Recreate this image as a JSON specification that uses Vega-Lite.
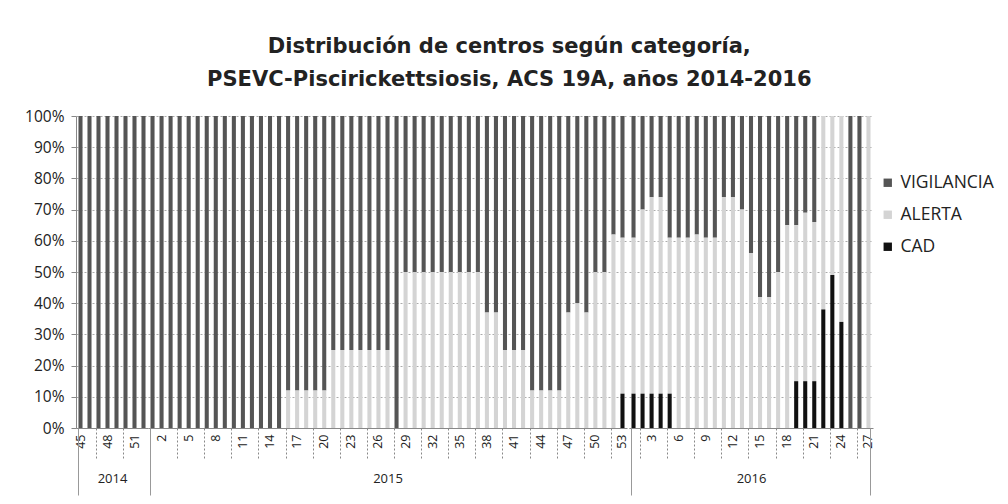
{
  "$schema": "https://vega.github.io/schema/vega-lite/v6.json",
  "padding": {"left": 24, "top": 36, "right": 5, "bottom": 2},
  "background": "white",
  "title": {
    "text": ["Distribución de centros según categoría,", "PSEVC-Piscirickettsiosis, ACS 19A, años 2014-2016"],
    "font": "DejaVu Sans", "fontSize": 21, "fontWeight": "bold", "lineHeight": 33,
    "anchor": "middle", "offset": 19, "color": "#222"
  },
  "datasets": {
    "cats": [{"c":"CAD","r":1},{"c":"ALERTA","r":2},{"c":"VIGILANCIA","r":3}],
    "d": [
      {"y":2014,"w":45,"c":"VIGILANCIA","p":100},{"y":2014,"w":46,"c":"VIGILANCIA","p":100},{"y":2014,"w":47,"c":"VIGILANCIA","p":100},{"y":2014,"w":48,"c":"VIGILANCIA","p":100},
      {"y":2014,"w":49,"c":"VIGILANCIA","p":100},{"y":2014,"w":50,"c":"VIGILANCIA","p":100},{"y":2014,"w":51,"c":"VIGILANCIA","p":100},{"y":2014,"w":52,"c":"VIGILANCIA","p":100},
      {"y":2015,"w":1,"c":"VIGILANCIA","p":100},{"y":2015,"w":2,"c":"VIGILANCIA","p":100},{"y":2015,"w":3,"c":"VIGILANCIA","p":100},{"y":2015,"w":4,"c":"VIGILANCIA","p":100},
      {"y":2015,"w":5,"c":"VIGILANCIA","p":100},{"y":2015,"w":6,"c":"VIGILANCIA","p":100},{"y":2015,"w":7,"c":"VIGILANCIA","p":100},{"y":2015,"w":8,"c":"VIGILANCIA","p":100},
      {"y":2015,"w":9,"c":"VIGILANCIA","p":100},{"y":2015,"w":10,"c":"VIGILANCIA","p":100},{"y":2015,"w":11,"c":"VIGILANCIA","p":100},{"y":2015,"w":12,"c":"VIGILANCIA","p":100},
      {"y":2015,"w":13,"c":"VIGILANCIA","p":100},{"y":2015,"w":14,"c":"VIGILANCIA","p":100},{"y":2015,"w":15,"c":"VIGILANCIA","p":100},
      {"y":2015,"w":16,"c":"VIGILANCIA","p":88},{"y":2015,"w":16,"c":"ALERTA","p":12},
      {"y":2015,"w":17,"c":"VIGILANCIA","p":88},{"y":2015,"w":17,"c":"ALERTA","p":12},
      {"y":2015,"w":18,"c":"VIGILANCIA","p":88},{"y":2015,"w":18,"c":"ALERTA","p":12},
      {"y":2015,"w":19,"c":"VIGILANCIA","p":88},{"y":2015,"w":19,"c":"ALERTA","p":12},
      {"y":2015,"w":20,"c":"VIGILANCIA","p":88},{"y":2015,"w":20,"c":"ALERTA","p":12},
      {"y":2015,"w":21,"c":"VIGILANCIA","p":75},{"y":2015,"w":21,"c":"ALERTA","p":25},
      {"y":2015,"w":22,"c":"VIGILANCIA","p":75},{"y":2015,"w":22,"c":"ALERTA","p":25},
      {"y":2015,"w":23,"c":"VIGILANCIA","p":75},{"y":2015,"w":23,"c":"ALERTA","p":25},
      {"y":2015,"w":24,"c":"VIGILANCIA","p":75},{"y":2015,"w":24,"c":"ALERTA","p":25},
      {"y":2015,"w":25,"c":"VIGILANCIA","p":75},{"y":2015,"w":25,"c":"ALERTA","p":25},
      {"y":2015,"w":26,"c":"VIGILANCIA","p":75},{"y":2015,"w":26,"c":"ALERTA","p":25},
      {"y":2015,"w":27,"c":"VIGILANCIA","p":75},{"y":2015,"w":27,"c":"ALERTA","p":25},
      {"y":2015,"w":28,"c":"VIGILANCIA","p":100},
      {"y":2015,"w":29,"c":"VIGILANCIA","p":50},{"y":2015,"w":29,"c":"ALERTA","p":50},
      {"y":2015,"w":30,"c":"VIGILANCIA","p":50},{"y":2015,"w":30,"c":"ALERTA","p":50},
      {"y":2015,"w":31,"c":"VIGILANCIA","p":50},{"y":2015,"w":31,"c":"ALERTA","p":50},
      {"y":2015,"w":32,"c":"VIGILANCIA","p":50},{"y":2015,"w":32,"c":"ALERTA","p":50},
      {"y":2015,"w":33,"c":"VIGILANCIA","p":50},{"y":2015,"w":33,"c":"ALERTA","p":50},
      {"y":2015,"w":34,"c":"VIGILANCIA","p":50},{"y":2015,"w":34,"c":"ALERTA","p":50},
      {"y":2015,"w":35,"c":"VIGILANCIA","p":50},{"y":2015,"w":35,"c":"ALERTA","p":50},
      {"y":2015,"w":36,"c":"VIGILANCIA","p":50},{"y":2015,"w":36,"c":"ALERTA","p":50},
      {"y":2015,"w":37,"c":"VIGILANCIA","p":50},{"y":2015,"w":37,"c":"ALERTA","p":50},
      {"y":2015,"w":38,"c":"VIGILANCIA","p":63},{"y":2015,"w":38,"c":"ALERTA","p":37},
      {"y":2015,"w":39,"c":"VIGILANCIA","p":63},{"y":2015,"w":39,"c":"ALERTA","p":37},
      {"y":2015,"w":40,"c":"VIGILANCIA","p":75},{"y":2015,"w":40,"c":"ALERTA","p":25},
      {"y":2015,"w":41,"c":"VIGILANCIA","p":75},{"y":2015,"w":41,"c":"ALERTA","p":25},
      {"y":2015,"w":42,"c":"VIGILANCIA","p":75},{"y":2015,"w":42,"c":"ALERTA","p":25},
      {"y":2015,"w":43,"c":"VIGILANCIA","p":88},{"y":2015,"w":43,"c":"ALERTA","p":12},
      {"y":2015,"w":44,"c":"VIGILANCIA","p":88},{"y":2015,"w":44,"c":"ALERTA","p":12},
      {"y":2015,"w":45,"c":"VIGILANCIA","p":88},{"y":2015,"w":45,"c":"ALERTA","p":12},
      {"y":2015,"w":46,"c":"VIGILANCIA","p":88},{"y":2015,"w":46,"c":"ALERTA","p":12},
      {"y":2015,"w":47,"c":"VIGILANCIA","p":63},{"y":2015,"w":47,"c":"ALERTA","p":37},
      {"y":2015,"w":48,"c":"VIGILANCIA","p":60},{"y":2015,"w":48,"c":"ALERTA","p":40},
      {"y":2015,"w":49,"c":"VIGILANCIA","p":63},{"y":2015,"w":49,"c":"ALERTA","p":37},
      {"y":2015,"w":50,"c":"VIGILANCIA","p":50},{"y":2015,"w":50,"c":"ALERTA","p":50},
      {"y":2015,"w":51,"c":"VIGILANCIA","p":50},{"y":2015,"w":51,"c":"ALERTA","p":50},
      {"y":2015,"w":52,"c":"VIGILANCIA","p":38},{"y":2015,"w":52,"c":"ALERTA","p":62},
      {"y":2015,"w":53,"c":"VIGILANCIA","p":39},{"y":2015,"w":53,"c":"ALERTA","p":50},{"y":2015,"w":53,"c":"CAD","p":11},
      {"y":2016,"w":1,"c":"VIGILANCIA","p":39},{"y":2016,"w":1,"c":"ALERTA","p":50},{"y":2016,"w":1,"c":"CAD","p":11},
      {"y":2016,"w":2,"c":"VIGILANCIA","p":30},{"y":2016,"w":2,"c":"ALERTA","p":59},{"y":2016,"w":2,"c":"CAD","p":11},
      {"y":2016,"w":3,"c":"VIGILANCIA","p":26},{"y":2016,"w":3,"c":"ALERTA","p":63},{"y":2016,"w":3,"c":"CAD","p":11},
      {"y":2016,"w":4,"c":"VIGILANCIA","p":26},{"y":2016,"w":4,"c":"ALERTA","p":63},{"y":2016,"w":4,"c":"CAD","p":11},
      {"y":2016,"w":5,"c":"VIGILANCIA","p":39},{"y":2016,"w":5,"c":"ALERTA","p":50},{"y":2016,"w":5,"c":"CAD","p":11},
      {"y":2016,"w":6,"c":"VIGILANCIA","p":39},{"y":2016,"w":6,"c":"ALERTA","p":61},
      {"y":2016,"w":7,"c":"VIGILANCIA","p":39},{"y":2016,"w":7,"c":"ALERTA","p":61},
      {"y":2016,"w":8,"c":"VIGILANCIA","p":38},{"y":2016,"w":8,"c":"ALERTA","p":62},
      {"y":2016,"w":9,"c":"VIGILANCIA","p":39},{"y":2016,"w":9,"c":"ALERTA","p":61},
      {"y":2016,"w":10,"c":"VIGILANCIA","p":39},{"y":2016,"w":10,"c":"ALERTA","p":61},
      {"y":2016,"w":11,"c":"VIGILANCIA","p":26},{"y":2016,"w":11,"c":"ALERTA","p":74},
      {"y":2016,"w":12,"c":"VIGILANCIA","p":26},{"y":2016,"w":12,"c":"ALERTA","p":74},
      {"y":2016,"w":13,"c":"VIGILANCIA","p":30},{"y":2016,"w":13,"c":"ALERTA","p":70},
      {"y":2016,"w":14,"c":"VIGILANCIA","p":44},{"y":2016,"w":14,"c":"ALERTA","p":56},
      {"y":2016,"w":15,"c":"VIGILANCIA","p":58},{"y":2016,"w":15,"c":"ALERTA","p":42},
      {"y":2016,"w":16,"c":"VIGILANCIA","p":58},{"y":2016,"w":16,"c":"ALERTA","p":42},
      {"y":2016,"w":17,"c":"VIGILANCIA","p":50},{"y":2016,"w":17,"c":"ALERTA","p":50},
      {"y":2016,"w":18,"c":"VIGILANCIA","p":35},{"y":2016,"w":18,"c":"ALERTA","p":65},
      {"y":2016,"w":19,"c":"VIGILANCIA","p":35},{"y":2016,"w":19,"c":"ALERTA","p":50},{"y":2016,"w":19,"c":"CAD","p":15},
      {"y":2016,"w":20,"c":"VIGILANCIA","p":31},{"y":2016,"w":20,"c":"ALERTA","p":54},{"y":2016,"w":20,"c":"CAD","p":15},
      {"y":2016,"w":21,"c":"VIGILANCIA","p":34},{"y":2016,"w":21,"c":"ALERTA","p":51},{"y":2016,"w":21,"c":"CAD","p":15},
      {"y":2016,"w":22,"c":"ALERTA","p":62},{"y":2016,"w":22,"c":"CAD","p":38},
      {"y":2016,"w":23,"c":"ALERTA","p":51},{"y":2016,"w":23,"c":"CAD","p":49},
      {"y":2016,"w":24,"c":"ALERTA","p":66},{"y":2016,"w":24,"c":"CAD","p":34},
      {"y":2016,"w":25,"c":"VIGILANCIA","p":100},
      {"y":2016,"w":26,"c":"VIGILANCIA","p":100},
      {"y":2016,"w":27,"c":"ALERTA","p":100}
    ]
  },
  "data": {"name": "d"},
  "transform": [{"lookup": "c", "from": {"data": {"name": "cats"}, "key": "c", "fields": ["r"]}}],
  "spacing": 0,
  "resolve": {
    "scale": {"x": "independent", "y": "shared", "color": "shared"},
    "axis": {"x": "independent", "y": "independent"},
    "legend": {"color": "shared"}
  },
  "hconcat": [
    {
      "width": 72, "height": 312,
      "transform": [{"filter": "datum.y == 2014"}],
      "resolve": {"axis": {"x": "independent"}},
      "layer": [
        {
          "mark": {"type": "bar"},
          "encoding": {
            "x": {"field": "w", "type": "ordinal", "scale": {"paddingInner": 0.55, "paddingOuter": 0.275},
                  "axis": {"orient": "bottom", "values": [45,48,51], "labelAngle": 270, "labelFontSize": 12.5, "labelPadding": 6, "ticks": false, "domainColor": "#888", "title": "2014", "titleFontSize": 13, "titleFontWeight": "normal", "titlePadding": 24}},
            "y": {"field": "p", "type": "quantitative", "stack": "normalize",
                  "axis": {"values": [0,0.1,0.2,0.3,0.4,0.5,0.6,0.7,0.8,0.9,1], "format": ".0%", "labelFontSize": 15.5, "labelPadding": 7, "tickSize": 5, "tickColor": "#888", "domainColor": "#888", "grid": true, "gridColor": "#aaa", "gridDash": [2,2], "title": null}},
            "order": {"field": "r", "type": "quantitative", "sort": "ascending"},
            "color": {"field": "c", "type": "nominal",
                      "scale": {"domain": ["VIGILANCIA","ALERTA","CAD"], "range": ["#555555","#d4d4d4","#111111"]},
                      "legend": {"title": null, "orient": "none", "legendX": 803, "legendY": 58, "labelFontSize": 17.5, "labelFont": "Open Sans", "symbolType": "square", "symbolSize": 70, "rowPadding": 13, "labelOffset": 4, "labelColor": "#222"}}
          }
        },
        {
          "mark": {"type": "bar", "opacity": 0},
          "encoding": {"x": {"field": "w", "type": "ordinal", "axis": {"orient": "bottom", "values": [47,50], "bandPosition": 0, "labels": false, "domain": false, "tickSize": 30, "tickDash": [2,2], "tickColor": "#888", "title": null}}}
        },
        {
          "mark": {"type": "bar", "opacity": 0},
          "encoding": {"x": {"field": "w", "type": "ordinal", "axis": {"orient": "bottom", "values": [45], "bandPosition": 0, "labels": false, "domain": false, "tickSize": 67, "tickColor": "#999", "title": null}}}
        }
      ]
    },
    {
      "width": 479, "height": 312,
      "transform": [{"filter": "datum.y == 2015"}],
      "resolve": {"axis": {"x": "independent"}},
      "layer": [
        {
          "mark": {"type": "bar"},
          "encoding": {
            "x": {"field": "w", "type": "ordinal", "scale": {"paddingInner": 0.55, "paddingOuter": 0.275},
                  "axis": {"orient": "bottom", "values": [2,5,8,11,14,17,20,23,26,29,32,35,38,41,44,47,50,53], "labelAngle": 270, "labelFontSize": 12.5, "labelPadding": 6, "ticks": false, "domainColor": "#888", "title": "2015", "titleFontSize": 13, "titleFontWeight": "normal", "titlePadding": 24}},
            "y": {"field": "p", "type": "quantitative", "stack": "normalize",
                  "axis": {"values": [0,0.1,0.2,0.3,0.4,0.5,0.6,0.7,0.8,0.9,1], "labels": false, "ticks": false, "domain": false, "grid": true, "gridColor": "#aaa", "gridDash": [2,2], "title": null}},
            "order": {"field": "r", "type": "quantitative", "sort": "ascending"},
            "color": {"field": "c", "type": "nominal",
                      "scale": {"domain": ["VIGILANCIA","ALERTA","CAD"], "range": ["#555555","#d4d4d4","#111111"]}}
          }
        },
        {
          "mark": {"type": "bar", "opacity": 0},
          "encoding": {"x": {"field": "w", "type": "ordinal", "axis": {"orient": "bottom", "values": [4,7,10,13,16,19,22,25,28,31,34,37,40,43,46,49,52], "bandPosition": 0, "labels": false, "domain": false, "tickSize": 30, "tickDash": [2,2], "tickColor": "#888", "title": null}}}
        },
        {
          "mark": {"type": "bar", "opacity": 0},
          "encoding": {"x": {"field": "w", "type": "ordinal", "axis": {"orient": "bottom", "values": [1], "bandPosition": 0, "labels": false, "domain": false, "tickSize": 67, "tickColor": "#999", "title": null}}}
        }
      ]
    },
    {
      "width": 244, "height": 312,
      "transform": [{"filter": "datum.y == 2016"}],
      "resolve": {"axis": {"x": "independent"}},
      "layer": [
        {
          "mark": {"type": "bar"},
          "encoding": {
            "x": {"field": "w", "type": "ordinal", "scale": {"paddingInner": 0.55, "paddingOuter": 0.275},
                  "axis": {"orient": "bottom", "values": [3,6,9,12,15,18,21,24,27], "labelAngle": 270, "labelFontSize": 12.5, "labelPadding": 6, "ticks": false, "domainColor": "#888", "title": "2016", "titleFontSize": 13, "titleFontWeight": "normal", "titlePadding": 24}},
            "y": {"field": "p", "type": "quantitative", "stack": "normalize",
                  "axis": {"values": [0,0.1,0.2,0.3,0.4,0.5,0.6,0.7,0.8,0.9,1], "labels": false, "ticks": false, "domain": false, "grid": true, "gridColor": "#aaa", "gridDash": [2,2], "title": null}},
            "order": {"field": "r", "type": "quantitative", "sort": "ascending"},
            "color": {"field": "c", "type": "nominal",
                      "scale": {"domain": ["VIGILANCIA","ALERTA","CAD"], "range": ["#555555","#d4d4d4","#111111"]}}
          }
        },
        {
          "mark": {"type": "bar", "opacity": 0},
          "encoding": {"x": {"field": "w", "type": "ordinal", "axis": {"orient": "bottom", "values": [2,5,8,11,14,17,20,23,26], "bandPosition": 0, "labels": false, "domain": false, "tickSize": 30, "tickDash": [2,2], "tickColor": "#888", "title": null}}}
        },
        {
          "mark": {"type": "bar", "opacity": 0},
          "encoding": {"x": {"field": "w", "type": "ordinal", "axis": {"orient": "bottom", "values": [1], "bandPosition": 0, "labels": false, "domain": false, "tickSize": 67, "tickColor": "#999", "title": null}}}
        },
        {
          "mark": {"type": "bar", "opacity": 0},
          "encoding": {"x": {"field": "w", "type": "ordinal", "axis": {"orient": "bottom", "values": [27], "bandPosition": 1, "labels": false, "domain": false, "tickSize": 67, "tickColor": "#999", "title": null}}}
        }
      ]
    }
  ],
  "config": {
    "view": {"stroke": null},
    "font": "Open Sans",
    "axis": {"labelFont": "Open Sans", "titleFont": "Open Sans", "labelColor": "#222", "titleColor": "#222"}
  }
}
